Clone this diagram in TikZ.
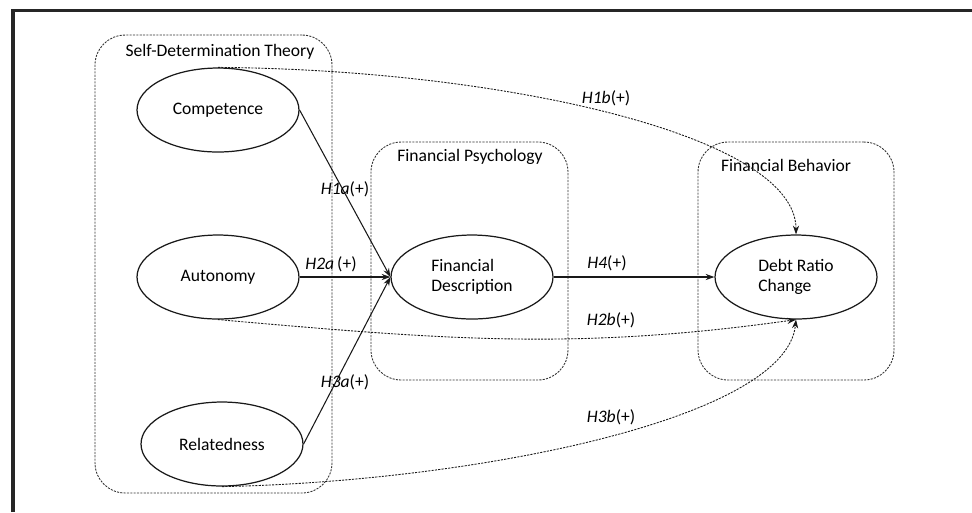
\documentclass[tikz,border=0pt]{standalone}
\usepackage{fontspec}
\setmainfont{Carlito}
\usetikzlibrary{arrows.meta,shapes.geometric}

\begin{document}
\begin{tikzpicture}[x=0.02cm, y=-0.02cm]
  \tikzstyle{group} = [rectangle, rounded corners=0.6cm, draw=black!80, dash pattern=on 1.2pt off 0.7pt, line width=0.5pt]
  \tikzstyle{construct} = [ellipse, minimum width=3.24cm, minimum height=1.68cm, inner sep=0pt, draw=black!90, line width=0.7pt, align=left, font=\fontsize{10}{11.3}\selectfont]
  \tikzstyle{heading} = [font=\fontsize{10}{11.3}\selectfont]
  \tikzstyle{hyp} = [font=\fontsize{10}{11.3}\selectfont, inner sep=1pt]
  \tikzstyle{direct} = [line width=0.6pt, black!90, -{Stealth[length=5pt,width=3.5pt]}]
  \tikzstyle{indirect} = [direct, line width=0.5pt, dash pattern=on 1.2pt off 0.7pt]

  \useasboundingbox (0,0) rectangle (972,512);
  \draw [line width=2pt, black!85] (13,512) -- (13,10.5) -- (972,10.5);

  % theory groups
  \node (sdt) [group, minimum width=4.74cm, minimum height=9.16cm] at (213.5,264) {};
  \node (fp) [group, minimum width=3.94cm, minimum height=4.76cm] at (469.5,261) {};
  \node (fb) [group, minimum width=3.92cm, minimum height=4.76cm] at (796,261) {};
  \node (sdtlabel) [heading] at (220,52) {Self-Determination Theory};
  \node (fplabel) [heading] at (470,157) {Financial Psychology};
  \node (fblabel) [heading] at (786,165) {Financial Behavior};

  % constructs
  \node (competence) [construct] at (218,110) {Competence};
  \node (autonomy) [construct] at (218,277) {Autonomy};
  \node (relatedness) [construct] at (222,444) {Relatedness};
  \node (description) [construct] at (472,277) {Financial\\Description};
  \node (debt) [construct] at (796,277) {Debt Ratio\\Change};

  % hypotheses
  \draw [direct] (competence.east) -- (description.west);
  \draw [direct] (autonomy.east) -- (description.west);
  \draw [direct] (relatedness.east) -- (description.west);
  \draw [direct] (description.east) -- (debt.west);
  \draw [indirect] (competence.north) .. controls +(280,2) and +(0,-100) .. (debt.north);
  \draw [indirect] (autonomy.south) to[out=-5, in=188] (debt.south);
  \draw [indirect] (relatedness.south) .. controls +(250,-5) and +(-10,100) .. (debt.south);

  \node (h1a) [hyp] at (345,189) {\textit{H1a}(+)};
  \node (h2a) [hyp] at (331,264) {\textit{H2a}\,(+)};
  \node (h3a) [hyp] at (345,382) {\textit{H3a}(+)};
  \node (h4) [hyp] at (607,263) {\textit{H4}(+)};
  \node (h1b) [hyp] at (606,98) {\textit{H1b}(+)};
  \node (h2b) [hyp] at (611,320) {\textit{H2b}(+)};
  \node (h3b) [hyp] at (611,417) {\textit{H3b}(+)};
\end{tikzpicture}
\end{document}
